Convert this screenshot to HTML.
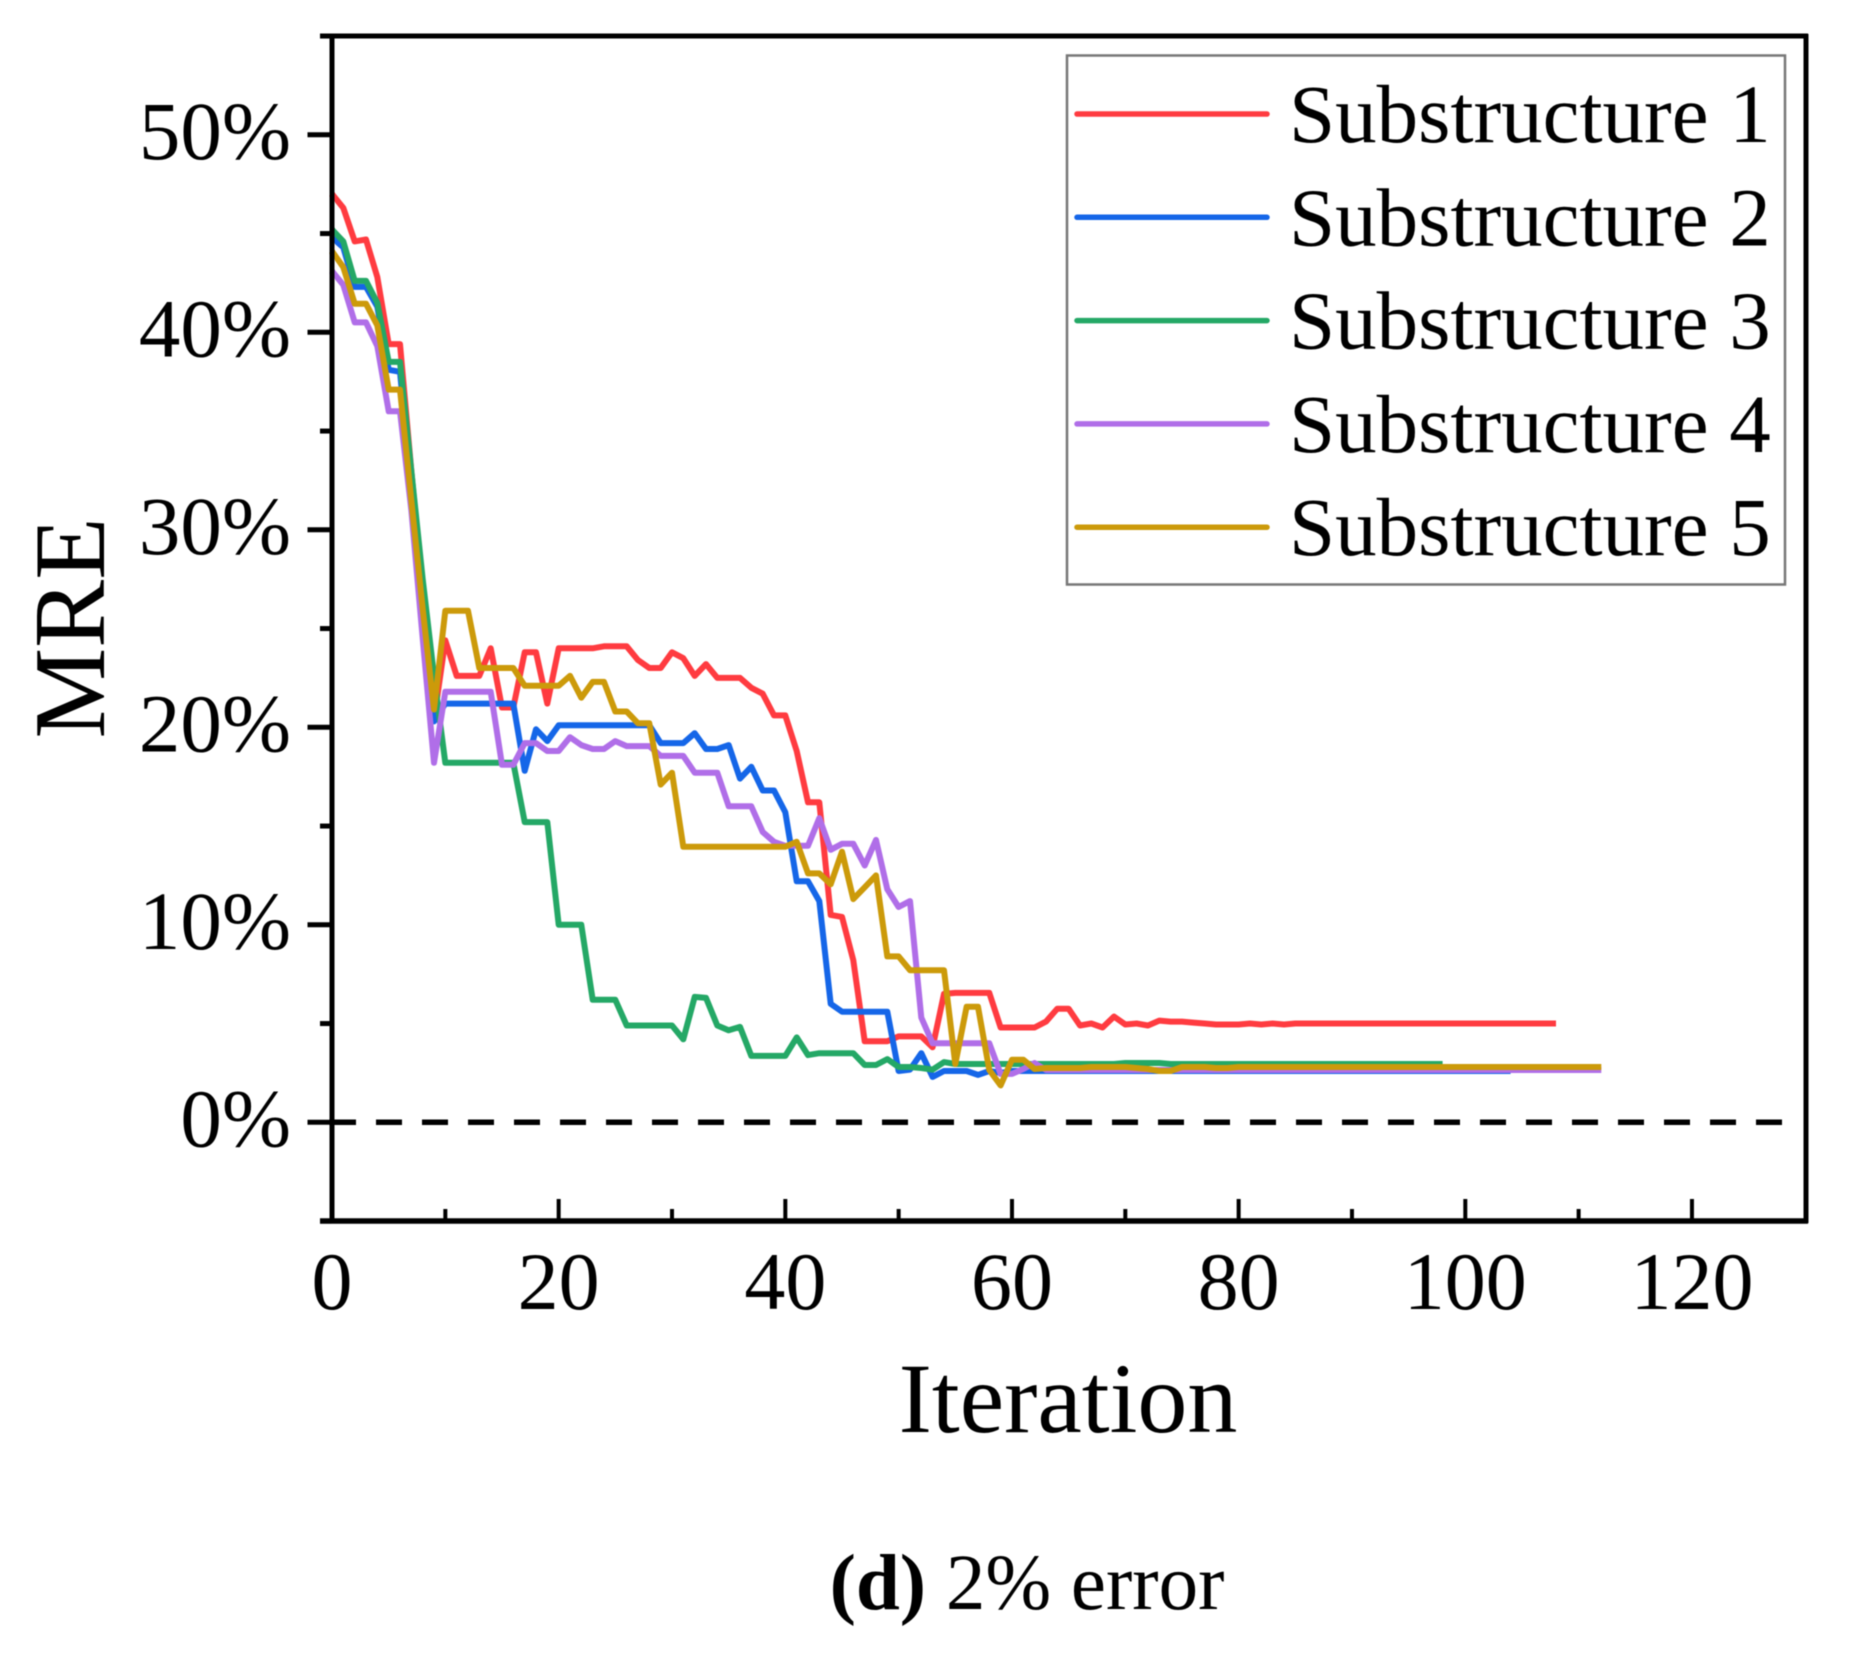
<!DOCTYPE html>
<html lang="en">
<head>
<meta charset="utf-8">
<title>MRE vs Iteration - 2% error</title>
<style>
html,body{margin:0;padding:0;background:#fff;}
body{width:1855px;height:1654px;overflow:hidden;}
svg{display:block;}
text{font-family:"Liberation Serif","Times New Roman",serif;fill:#000;}
</style>
</head>
<body>
<svg id="chart" xmlns="http://www.w3.org/2000/svg" width="1855" height="1654" viewBox="0 0 1855 1654">
  <rect x="0" y="0" width="1855" height="1654" fill="#ffffff"/>
  <g id="plot" style="filter:blur(0.6px)"></g>
  <g id="axes" style="filter:blur(0.4px)"></g>
  <g id="legend" style="filter:blur(0.4px)"></g>
  <text transform="translate(104,628) rotate(-90)" text-anchor="middle" font-size="102" style="filter:blur(0.4px)">MRE</text>
  <text x="1068" y="1432" text-anchor="middle" font-size="100" style="filter:blur(0.4px)">Iteration</text>
  <text x="1027" y="1609" text-anchor="middle" font-size="79" style="filter:blur(0.4px)"><tspan font-weight="bold">(d)</tspan> 2% error</text>
</svg>
<script>
const seriesNames = ["Substructure 1","Substructure 2","Substructure 3","Substructure 4","Substructure 5"];
const seriesColors = ["#ff3b40","#1566e8","#24a866","#b06ee8","#cc9a0a"];
const xTickLabels = [0,20,40,60,80,100,120];
const xMinorTicks = [10,30,50,70,90,110];
const yTickLabels = [0,10,20,30,40,50];
const yMinorTicks = [-5,5,15,25,35,45,55];

const substructure1 = [
47.0,46.3,44.6,44.7,42.8,39.4,39.4,33.0,27.0,20.4,
24.4,22.6,22.6,22.6,24.0,21.0,21.0,23.8,23.8,21.2,
24.0,24.0,24.0,24.0,24.1,24.1,24.1,23.4,23.0,23.0,
23.8,23.5,22.6,23.2,22.5,22.5,22.5,22.0,21.7,20.6,
20.6,18.8,16.2,16.2,10.5,10.4,8.2,4.1,4.1,4.1,
4.35,4.35,4.35,3.8,6.5,6.55,6.55,6.55,6.55,4.8,
4.8,4.8,4.8,5.1,5.75,5.75,4.9,5.0,4.8,5.35,
4.95,5.0,4.9,5.15,5.1,5.1,5.05,5.0,4.95,4.95,
4.95,5.0,4.95,5.0,4.95,5.0,5.0,5.0,5.0,5.0,
5.0,5.0,5.0,5.0,5.0,5.0,5.0,5.0,5.0,5.0,
5.0,5.0,5.0,5.0,5.0,5.0,5.0,5.0,5.0];

const substructure2 = [
44.8,44.3,42.3,42.3,41.3,38.1,38.0,32.0,26.0,20.3,
21.2,21.2,21.2,21.2,21.2,21.2,21.2,17.8,19.9,19.3,
20.1,20.1,20.1,20.1,20.1,20.1,20.1,20.1,20.1,19.2,
19.2,19.2,19.7,18.9,18.9,19.1,17.4,18.0,16.8,16.8,
15.7,12.2,12.2,11.2,6.0,5.6,5.6,5.6,5.6,5.6,
2.6,2.67,3.5,2.3,2.6,2.6,2.6,2.4,2.6,2.5,
2.6,2.6,2.6,2.6,2.6,2.6,2.6,2.6,2.6,2.6,
2.6,2.6,2.6,2.6,2.6,2.6,2.6,2.6,2.6,2.6,
2.6,2.6,2.6,2.6,2.6,2.6,2.6,2.6,2.6,2.6,
2.6,2.6,2.6,2.6,2.6,2.6,2.6,2.6,2.6,2.6,
2.6,2.6,2.6,2.6,2.6];

const substructure3 = [
45.2,44.6,42.6,42.6,41.5,38.5,38.5,33.0,27.5,22.6,
18.2,18.2,18.2,18.2,18.2,18.2,18.2,15.2,15.2,15.2,
10.0,10.0,10.0,6.2,6.2,6.2,4.9,4.9,4.9,4.9,
4.9,4.2,6.35,6.3,4.9,4.66,4.83,3.36,3.36,3.36,
3.36,4.3,3.4,3.5,3.5,3.5,3.5,2.9,2.9,3.2,
2.8,2.8,2.75,2.67,3.05,2.95,2.95,2.95,2.95,2.95,
2.95,2.95,2.95,2.95,2.95,2.95,2.95,2.95,2.95,2.95,
3.0,3.0,3.0,3.0,2.95,2.95,2.95,2.95,2.95,2.95,
2.95,2.95,2.95,2.95,2.95,2.95,2.95,2.95,2.95,2.95,
2.95,2.95,2.95,2.95,2.95,2.95,2.95,2.95,2.95];

const substructure4 = [
43.1,42.4,40.5,40.5,39.3,36.0,36.0,31.0,24.5,18.2,
21.8,21.8,21.8,21.8,21.8,18.1,18.1,19.2,19.2,18.8,
18.8,19.5,19.1,18.9,18.9,19.3,19.05,19.05,19.05,18.55,
18.55,18.55,17.7,17.7,17.7,16.0,16.0,16.0,14.7,14.2,
14.0,14.0,14.0,15.4,13.8,14.1,14.1,13.0,14.3,11.8,
10.9,11.2,5.3,4.0,4.0,4.0,4.0,4.0,4.0,2.45,
2.45,2.7,3.0,2.65,2.65,2.65,2.65,2.65,2.65,2.65,
2.65,2.65,2.65,2.65,2.65,2.65,2.65,2.65,2.65,2.65,
2.65,2.65,2.65,2.65,2.65,2.65,2.65,2.65,2.65,2.65,
2.65,2.65,2.65,2.65,2.65,2.65,2.65,2.65,2.65,2.65,
2.65,2.65,2.65,2.65,2.65,2.65,2.65,2.65,2.65,2.65,
2.65,2.65,2.65];

const substructure5 = [
44.1,43.3,41.45,41.45,40.35,37.1,37.1,31.5,26.0,20.9,
25.9,25.9,25.9,23.0,23.0,23.0,23.0,22.1,22.1,22.1,
22.1,22.6,21.5,22.3,22.3,20.8,20.8,20.2,20.2,17.1,
17.7,13.95,13.95,13.95,13.95,13.95,13.95,13.95,13.95,13.95,
13.95,14.2,12.6,12.6,12.05,13.7,11.3,11.9,12.5,8.4,
8.4,7.7,7.7,7.7,7.7,2.95,5.85,5.85,2.65,1.87,
3.17,3.17,2.7,2.75,2.75,2.75,2.75,2.8,2.8,2.8,
2.8,2.75,2.7,2.6,2.6,2.8,2.8,2.8,2.75,2.75,
2.8,2.8,2.8,2.8,2.8,2.8,2.8,2.8,2.8,2.8,
2.8,2.8,2.8,2.8,2.8,2.8,2.8,2.8,2.8,2.8,
2.8,2.8,2.8,2.8,2.8,2.8,2.8,2.8,2.8,2.8,
2.8,2.8,2.8];

const allSeries = [substructure1,substructure2,substructure3,substructure4,substructure5];

const SVGNS = "http://www.w3.org/2000/svg";
const xScale = v => 332 + v * 11.333;
const yScale = v => 1122.3 - v * 19.75;

function line(parent,x1,y1,x2,y2,stroke,w){
  const l = document.createElementNS(SVGNS,"line");
  l.setAttribute("x1",x1);l.setAttribute("y1",y1);l.setAttribute("x2",x2);l.setAttribute("y2",y2);
  l.setAttribute("stroke",stroke);l.setAttribute("stroke-width",w);
  parent.appendChild(l);
  return l;
}
function label(parent,x,y,str,size,anchor){
  const t = document.createElementNS(SVGNS,"text");
  t.setAttribute("x",x);t.setAttribute("y",y);t.setAttribute("font-size",size);t.setAttribute("text-anchor",anchor);
  t.textContent = str;
  parent.appendChild(t);
  return t;
}

const plot = document.getElementById("plot");
const axes = document.getElementById("axes");
const legend = document.getElementById("legend");

/* zero reference line */
const zeroLine = line(plot,330,yScale(0),1782,yScale(0),"#000",5.5);
zeroLine.setAttribute("stroke-dasharray","26 20");



/* series */
allSeries.forEach((vals,i)=>{
  const p = document.createElementNS(SVGNS,"polyline");
  p.setAttribute("points",vals.map((v,k)=>xScale(k).toFixed(1)+","+yScale(v).toFixed(1)).join(" "));
  p.setAttribute("fill","none");
  p.setAttribute("stroke",seriesColors[i]);
  p.setAttribute("stroke-width","6");
  p.setAttribute("stroke-linejoin","round");
  
  
  plot.appendChild(p);
});

/* axis frame */
const axisTop = line(axes,320,36,1808,36,"#000",5);


const axisRight = line(axes,1806,34,1806,1223,"#000",5);


const axisBottom = line(axes,320,1221,1808,1221,"#000",5.5);


const axisLeft = line(axes,332,34,332,1223,"#000",5);



/* x ticks */
xTickLabels.forEach(v=>{
  const t = line(axes,xScale(v),1221,xScale(v),1199,"#000",4);
  
  
  const l = label(axes,xScale(v),1309,String(v),82,"middle");
  
  
});
xMinorTicks.forEach(v=>{
  const t = line(axes,xScale(v),1221,xScale(v),1209,"#000",4);
  
  
});

/* y ticks */
yTickLabels.forEach(v=>{
  const t = line(axes,307.5,yScale(v),332,yScale(v),"#000",5);
  
  
  const l = label(axes,291,yScale(v)+24,v+"%",83,"end");
  
  
});
yMinorTicks.forEach(v=>{
  const t = line(axes,320,yScale(v),332,yScale(v),"#000",5);
  
  
});

/* legend */
const legendBox = document.createElementNS(SVGNS,"rect");
legendBox.setAttribute("x","1067");
legendBox.setAttribute("y","55.5");
legendBox.setAttribute("width","718");
legendBox.setAttribute("height","529");
legendBox.setAttribute("fill","#ffffff");
legendBox.setAttribute("stroke","#777777");
legendBox.setAttribute("stroke-width","2.5");


legend.appendChild(legendBox);

seriesNames.forEach((name,i)=>{
  const y = 114 + i * 103.3;
  const s = line(legend,1077,y,1267,y,seriesColors[i],5.5);
  s.setAttribute("stroke-linecap","round");
  
  
  const t = label(legend,1289,y+28,name,83,"start");
  
  
});
</script>
</body>
</html>
